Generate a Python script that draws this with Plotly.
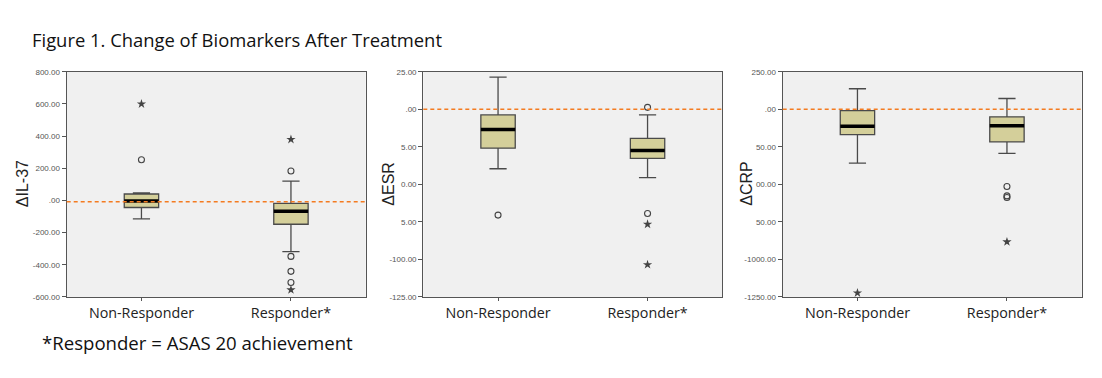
import plotly.graph_objects as go

categories = ["Non-Responder", "Responder*"]

# (lower whisker, Q1, median, Q3, upper whisker) per group
il37_stats = [[-115, -44, -3, 40, 47], [-318, -148, -67, -18, 120]]
il37_circles = [[253], [183, -348, -441, -510]]
il37_stars = [[600], [379, -556]]
il37_ref = -8

esr_stats = [[-39.6, -25.9, -13.5, -3.7, 21.5], [-45.5, -32.7, -27.4, -19.4, -3.7]]
esr_circles = [[-70.5], [1.3, -69.4]]
esr_stars = [[], [-76.6, -103.5]]
esr_ref = 0

crp_stats = [[-358, -169, -113, -8, 137], [-293, -217, -110, -50, 72]]
crp_circles = [[], [-514, -577, -588]]
crp_stars = [[-1224], [-883]]
crp_ref = 0

il37_ticks = [800, 600, 400, 200, 0, -200, -400, -600]
il37_ticktext = ["800.00", "600.00", "400.00", "200.00", ".00", "-200.00", "-400.00", "-600.00"]
esr_ticks = [25, 0, -25, -50, -75, -100, -125]
esr_ticktext = ["25.00", ".00", "5.00", "0.00", "5.00", "-100.00", "-125.00"]
crp_ticks = [250, 0, -250, -500, -750, -1000, -1250]
crp_ticktext = ["250.00", ".00", "50.00", "00.00", "50.00", "-1000.00", "-1250.00"]

panels = [
    ("ΔIL-37", il37_stats, il37_circles, il37_stars, il37_ref, il37_ticks, il37_ticktext, [-600, 800]),
    ("ΔESR", esr_stats, esr_circles, esr_stars, esr_ref, esr_ticks, esr_ticktext, [-125, 25]),
    ("ΔCRP", crp_stats, crp_circles, crp_stars, crp_ref, crp_ticks, crp_ticktext, [-1250, 250]),
]

# page body has an 8px margin; the figure is sized/positioned to compensate
OFF = 8
W, H = 1102 - OFF, 378 - OFF


def px(x):
    return (x - OFF) / W


def py(y):
    return 1 - (y - OFF) / H


x_domains = [(px(66.7), px(365.7)), (px(423.3), px(722.3)), (px(782.7), px(1081.7))]
y_domain = (py(300), py(69.3))
ytitle_x = [22.5, 389, 747]

BOX_W = 0.23
FILL = "#d4cf9a"
EDGE = "#4a4a4a"

fig = go.Figure()
layout = dict(
    width=W, height=H,
    margin=dict(l=0, r=0, t=0, b=0),
    paper_bgcolor="white",
    showlegend=False,
    font=dict(family="Arial", color="#333"),
    shapes=[], annotations=[],
)

for i, (title, stats, circles, stars, ref, tv, tt, yr) in enumerate(panels):
    n = "" if i == 0 else str(i + 1)
    xa, ya = "x" + n, "y" + n
    for j in range(len(categories)):
        lo, q1, med, q3, hi = stats[j]
        fig.add_trace(go.Box(
            x=[j], lowerfence=[lo], q1=[q1], median=[med], q3=[q3], upperfence=[hi],
            width=BOX_W, whiskerwidth=0.5, fillcolor=FILL,
            line=dict(color=EDGE, width=1.3), boxpoints=False,
            xaxis=xa, yaxis=ya, hoverinfo="skip",
        ))
        fig.add_trace(go.Scatter(
            x=[j - BOX_W / 2, j + BOX_W / 2], y=[med, med], mode="lines",
            line=dict(color="black", width=3.5), xaxis=xa, yaxis=ya, hoverinfo="skip",
        ))
        if circles[j]:
            fig.add_trace(go.Scatter(
                x=[j] * len(circles[j]), y=circles[j], mode="markers",
                marker=dict(symbol="circle-open", size=6, color="#444", line=dict(width=1.1)),
                xaxis=xa, yaxis=ya,
            ))
        if stars[j]:
            fig.add_trace(go.Scatter(
                x=[j] * len(stars[j]), y=stars[j], mode="markers",
                marker=dict(symbol="star", size=7, color="#444"),
                xaxis=xa, yaxis=ya,
            ))
    layout["shapes"].append(dict(
        type="line", xref=xa + " domain", yref=ya, x0=0, x1=1, y0=ref, y1=ref,
        line=dict(color="#f47b20", width=1.5, dash="4px,3px"), layer="above",
    ))
    layout["annotations"].append(dict(
        text=title, xref="paper", yref="paper", x=px(ytitle_x[i]), y=py(184),
        xanchor="center", yanchor="middle", textangle=-90, showarrow=False,
        font=dict(family="Arial", size=16, color="#222"),
    ))
    layout["xaxis" + n] = dict(
        domain=x_domains[i], anchor=ya, range=[-0.5, 1.5],
        tickvals=[0, 1], ticktext=categories, ticks="outside", ticklen=3,
        tickcolor="#555", showgrid=False, zeroline=False,
        showline=True, linecolor="#555", linewidth=1.3, mirror=True,
        tickfont=dict(family="Open Sans", size=14.3, color="#222"),
        fixedrange=True,
    )
    layout["yaxis" + n] = dict(
        domain=y_domain, anchor=xa, range=yr,
        tickvals=tv, ticktext=tt, ticks="outside", ticklen=4, tickcolor="#555",
        showgrid=False, zeroline=False,
        showline=True, linecolor="#555", linewidth=1.3, mirror=True,
        tickfont=dict(family="Arial", size=8, color="#555"),
        fixedrange=True,
    )

layout["plot_bgcolor"] = "#f0f0f0"
layout["annotations"] += [
    dict(text="Figure 1. Change of Biomarkers After Treatment", xref="paper", yref="paper",
         x=px(30), y=py(36), xanchor="left", yanchor="middle", showarrow=False,
         font=dict(family="Open Sans", size=18.4, color="#111")),
    dict(text="*Responder = ASAS 20 achievement", xref="paper", yref="paper",
         x=px(40), y=py(347), xanchor="left", yanchor="middle", showarrow=False,
         font=dict(family="Open Sans", size=18.6, color="#111")),
]

fig.update_layout(**layout)
fig.write_html("out.html")
